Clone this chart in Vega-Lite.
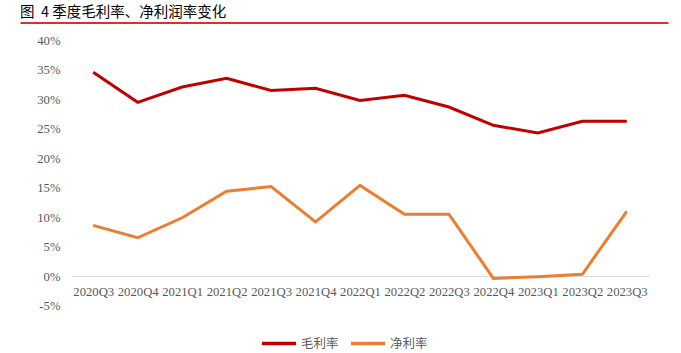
{
  "$schema": "https://vega.github.io/schema/vega-lite/v6.json",
  "padding": {"top": 4.5, "left": 20, "right": 5, "bottom": 0},
  "bounds": "full",
  "spacing": 9,
  "config": {
    "view": {"stroke": null},
    "background": "white",
    "legend": {"layout": {"bottom": {"anchor": "middle"}}}
  },
  "vconcat": [
    {
      "width": 648,
      "height": 1,
      "data": {"values": [{"v": 0}]},
      "mark": {"type": "point", "opacity": 0},
      "encoding": {
        "x": {
          "field": "v",
          "type": "quantitative",
          "axis": {"domainColor": "#D7322C", "domainWidth": 2, "ticks": false, "labels": false, "title": null, "grid": false}
        }
      },
      "title": {
        "text": "图\u00a0\u00a04\u00a0季度毛利率、净利润率变化",
        "anchor": "start",
        "font": "Noto Sans CJK SC",
        "fontSize": 14.5,
        "fontWeight": "normal",
        "color": "#000000",
        "offset": -1.5
      }
    },
    {
      "spacing": 0,
      "bounds": "full",
      "hconcat": [
        {
          "width": 10,
          "height": 1,
          "data": {"values": [{"v": 0}]},
          "mark": {"type": "point", "opacity": 0},
          "encoding": {}
        },
        {
          "width": 578,
          "height": 265,
          "data": {
            "values": [
              {"q": "2020Q3", "series": "毛利率", "v": 0.346},
              {"q": "2020Q4", "series": "毛利率", "v": 0.295},
              {"q": "2021Q1", "series": "毛利率", "v": 0.321},
              {"q": "2021Q2", "series": "毛利率", "v": 0.336},
              {"q": "2021Q3", "series": "毛利率", "v": 0.315},
              {"q": "2021Q4", "series": "毛利率", "v": 0.319},
              {"q": "2022Q1", "series": "毛利率", "v": 0.298},
              {"q": "2022Q2", "series": "毛利率", "v": 0.307},
              {"q": "2022Q3", "series": "毛利率", "v": 0.287},
              {"q": "2022Q4", "series": "毛利率", "v": 0.256},
              {"q": "2023Q1", "series": "毛利率", "v": 0.243},
              {"q": "2023Q2", "series": "毛利率", "v": 0.263},
              {"q": "2023Q3", "series": "毛利率", "v": 0.263},
              {"q": "2020Q3", "series": "净利率", "v": 0.086},
              {"q": "2020Q4", "series": "净利率", "v": 0.065},
              {"q": "2021Q1", "series": "净利率", "v": 0.099},
              {"q": "2021Q2", "series": "净利率", "v": 0.144},
              {"q": "2021Q3", "series": "净利率", "v": 0.152},
              {"q": "2021Q4", "series": "净利率", "v": 0.092},
              {"q": "2022Q1", "series": "净利率", "v": 0.154},
              {"q": "2022Q2", "series": "净利率", "v": 0.105},
              {"q": "2022Q3", "series": "净利率", "v": 0.105},
              {"q": "2022Q4", "series": "净利率", "v": -0.004},
              {"q": "2023Q1", "series": "净利率", "v": -0.001},
              {"q": "2023Q2", "series": "净利率", "v": 0.003},
              {"q": "2023Q3", "series": "净利率", "v": 0.110}
            ]
          },
          "mark": {"type": "line", "strokeWidth": 3},
          "encoding": {
            "x": {
              "field": "q",
              "type": "ordinal",
              "sort": null,
              "axis": {
                "title": null,
                "offset": -29.44,
                "domainColor": "#D9D9D9",
                "domainWidth": 1,
                "ticks": false,
                "labelAngle": 0,
                "labelPadding": 9,
                "labelFont": "Liberation Serif",
                "labelFontSize": 12.7,
                "labelColor": "#595959",
                "grid": false
              }
            },
            "y": {
              "field": "v",
              "type": "quantitative",
              "scale": {"domain": [-0.05, 0.4], "nice": false, "zero": false},
              "axis": {
                "title": null,
                "values": [-0.05, 0, 0.05, 0.1, 0.15, 0.2, 0.25, 0.3, 0.35, 0.4],
                "labelExpr": "round(datum.value * 100) + '%'",
                "domain": false,
                "ticks": false,
                "tickSize": 0,
                "grid": false,
                "labelPadding": 11,
                "minExtent": 41,
                "labelFont": "Liberation Serif",
                "labelFontSize": 12.7,
                "labelColor": "#595959"
              }
            },
            "color": {
              "field": "series",
              "type": "nominal",
              "sort": ["毛利率", "净利率"],
              "scale": {"domain": ["毛利率", "净利率"], "range": ["#C00000", "#ED7D31"]},
              "legend": {
                "title": null,
                "orient": "bottom",
                "direction": "horizontal",
                "symbolType": "stroke",
                "symbolSize": 1156,
                "symbolStrokeWidth": 3.5,
                "labelFont": "Noto Sans CJK SC",
                "labelFontSize": 12.5,
                "labelColor": "#595959",
                "labelOffset": 3,
                "columnPadding": 5,
                "offset": 12
              }
            }
          }
        }
      ]
    }
  ]
}
